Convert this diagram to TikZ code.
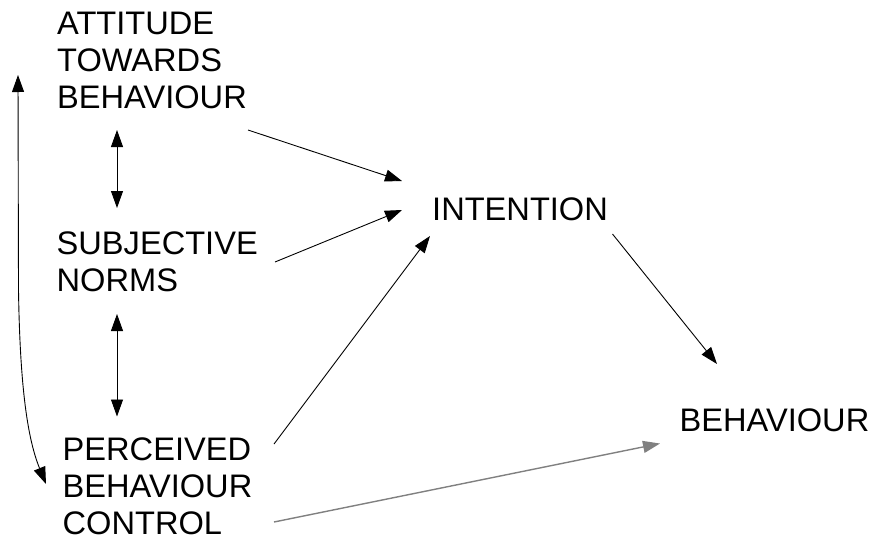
\documentclass[tikz,border=0pt]{standalone}
\usepackage{fontspec}
\setmainfont{Liberation Sans}
\usetikzlibrary{arrows.meta}
\begin{document}
\begin{tikzpicture}[x=1pt,y=-1pt,
  lbl/.style={inner sep=0pt,anchor=base west,align=left,font=\fontsize{32.6}{37}\selectfont},
  arr/.style={line width=0.9pt,-{Triangle[length=17pt,width=12pt]}},
  darr/.style={line width=0.9pt,{Triangle[length=17pt,width=12pt]}-{Triangle[length=17pt,width=12pt]}},
  garr/.style={line width=1.4pt,draw={rgb,255:red,128;green,128;blue,128},-{Triangle[length=17pt,width=12pt]}}]
\useasboundingbox (0,0) rectangle (872,536);
% base anchor of a multi-line node = baseline of its last line
\node[lbl] (att) at (57,108.3) {ATTITUDE\\TOWARDS\\BEHAVIOUR};
\node[lbl] (sub) at (56.5,291.7) {SUBJECTIVE\\NORMS};
\node[lbl] (pbc) at (62.5,534) {PERCEIVED\\BEHAVIOUR\\CONTROL};
\node[lbl] (int) at (432,220) {INTENTION};
\node[lbl] (beh) at (679.5,431) {BEHAVIOUR};
% endpoints
\coordinate (c1) at (117,130);
\coordinate (c2) at (117,208);
\coordinate (c3) at (117,314);
\coordinate (c4) at (117,416.5);
\coordinate (l1) at (18,75);
\coordinate (l2) at (46,484);
\coordinate (a1s) at (248,130);
\coordinate (a1e) at (402,181);
\coordinate (a2s) at (275,262);
\coordinate (a2e) at (402,210);
\coordinate (a3s) at (274,444);
\coordinate (a3e) at (430,236);
\coordinate (a4s) at (612.5,234);
\coordinate (a4e) at (717,364);
\coordinate (a5s) at (274,522);
\coordinate (a5e) at (660,443.5);
% connectors
\draw[darr] (c1) -- (c2);
\draw[darr] (c3) -- (c4);
\draw[darr] (l1) -- (18.5,290) .. controls (20,390) and (28,440) .. (l2);
\draw[arr] (a1s) -- (a1e);
\draw[arr] (a2s) -- (a2e);
\draw[arr] (a3s) -- (a3e);
\draw[arr] (a4s) -- (a4e);
\draw[garr] (a5s) -- (a5e);
\end{tikzpicture}
\end{document}
